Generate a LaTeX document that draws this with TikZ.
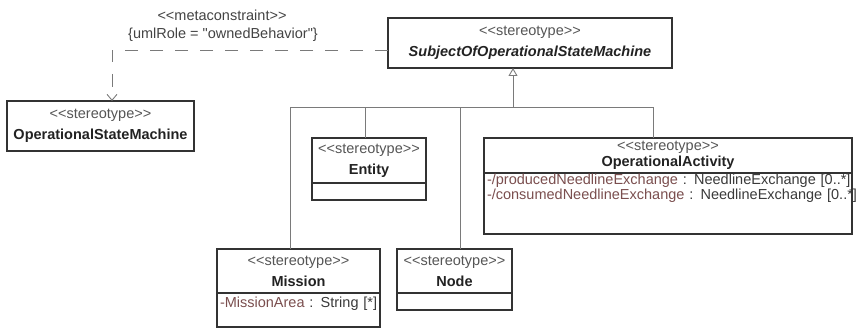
\documentclass[tikz,border=0pt]{standalone}
\usepackage{fontspec}
\setmainfont{Liberation Sans}[Ligatures=TeXOff]
\usepackage{tikz}
\usetikzlibrary{
  arrows.meta,
  positioning
}
\usepackage{xcolor}
\definecolor{boxline}{HTML}{333333}
\definecolor{wire}{HTML}{7A7A7A}
\definecolor{ink}{HTML}{222222}
\definecolor{stereo}{HTML}{555555}
\definecolor{attrname}{HTML}{7A4E4E}
\definecolor{attrtype}{HTML}{3A3A3A}
\newcommand{\sttype}{\textcolor{stereo}{<<stereotype>>}}

\begin{document}
\begin{tikzpicture}[
    x=1pt, y=-1pt,
    every node/.style={font=\fontsize{14.5}{21}\selectfont, text=ink},
    hdr/.style={draw=boxline, line width=1.2pt, align=center, inner sep=1pt, outer sep=0pt},
    comp/.style={draw=boxline, line width=1.2pt, align=left, inner xsep=3pt, inner ysep=0pt,
      outer sep=0pt, font=\fontsize{14.5}{15}\selectfont},
    emptycomp/.style={draw=boxline, line width=1.2pt, inner sep=0pt, outer sep=0pt, minimum height=17pt},
    lbl/.style={inner sep=0pt, text=ink!85},
    tree/.style={wire, line width=0.9pt},
    gen/.style={tree, -{Triangle[open, length=8pt, width=9pt]}},
    dep/.style={wire, line width=0.9pt, dash pattern=on 13pt off 12pt,
      -{Straight Barb[length=6pt, width=10pt]}}
  ]
    \useasboundingbox (0,0) rectangle (856,328);
    % abstract parent
    \node[hdr, minimum width=284pt, minimum height=50pt] (sosmh) at (530,43)
      {\sttype\\ \textbf{\textit{SubjectOfOperationalStateMachine}}};
    % target of the metaconstraint
    \node[hdr, minimum width=187pt, minimum height=50pt] (osm) at (100.5,126)
      {\sttype\\ \textbf{OperationalStateMachine}};
    % children
    \node[hdr, minimum width=114pt, minimum height=45pt] (entityh) at (369,160.5)
      {\sttype\\ \textbf{Entity}};
    \node[emptycomp, minimum width=114pt, below=0pt of entityh] (entityc) {};
    \node[hdr, minimum width=368pt, minimum height=35pt, font=\fontsize{14.5}{16}\selectfont]
      (opacth) at (668,155.5) {\sttype\\ \textbf{OperationalActivity}};
    \node[comp, text width=362pt, text height=12pt, text depth=49pt, below=0pt of opacth] (opactc)
      {\mbox{\textcolor{attrname}{-/producedNeedlineExchange} \textcolor{attrtype}{: NeedlineExchange [0..*]}}\\
       \mbox{\textcolor{attrname}{-/consumedNeedlineExchange} \textcolor{attrtype}{: NeedlineExchange [0..*]}}};
    \node[hdr, minimum width=163pt, minimum height=44pt] (missionh) at (298.5,271)
      {\sttype\\ \textbf{Mission}};
    \node[comp, text width=157pt, text height=15pt, text depth=19pt, below=0pt of missionh] (missionc)
      {\mbox{\textcolor{attrname}{-MissionArea} \textcolor{attrtype}{: String [*]}}};
    \node[hdr, minimum width=115pt, minimum height=44pt] (nodeh) at (454.5,271)
      {\sttype\\ \textbf{Node}};
    \node[emptycomp, minimum width=115pt, below=0pt of nodeh] (nodec) {};
    % generalization tree
    \coordinate (bus) at (513,107);
    \draw[gen] (bus) -- ([xshift=-17pt]sosmh.south);
    \draw[tree] ([xshift=-8.5pt]missionh.north) |- (bus);
    \draw[tree] ([xshift=-4pt]entityh.north) |- (bus);
    \draw[tree] ([xshift=5.5pt]nodeh.north) |- (bus);
    \draw[tree] ([xshift=-15pt]opacth.north) |- (bus);
    % metaconstraint
    \draw[dep] ([yshift=-7pt]sosmh.west) -| ([xshift=11.5pt]osm.north);
    \node[lbl] (mcon) at (222,15) {<<metaconstraint>>};
    \node[lbl] (mrole) at (223,35) {\{umlRole = "ownedBehavior"\}};
  \end{tikzpicture}
\end{document}
